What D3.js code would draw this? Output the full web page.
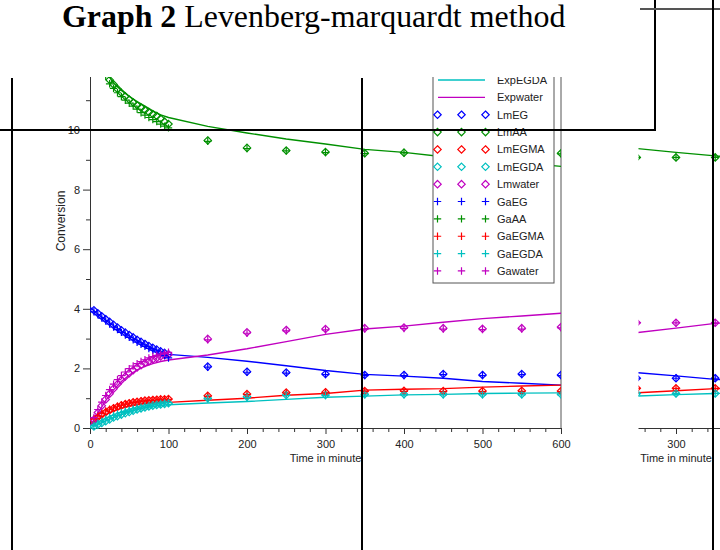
<!DOCTYPE html>
<html>
<head>
<meta charset="utf-8">
<script src="https://cdn.jsdelivr.net/npm/d3@7"></script>
<style>
  body { margin: 0; background: #fff; }
  svg { display: block; }
</style>
</head>
<body>
<svg id="chart" width="720" height="550"></svg>
<script>
// Values (conversion vs. time in minutes)

// measured curves (solid lines)
const lineTimes = [0, 10, 20, 30, 40, 50, 60, 70, 80, 90, 100, 150, 200, 250, 300, 350, 400, 450, 500, 550, 600];
const expEG    = [4.05, 3.82, 3.62, 3.43, 3.25, 3.09, 2.94, 2.80, 2.67, 2.56, 2.47, 2.37, 2.24, 2.09, 1.93, 1.80, 1.74, 1.67, 1.56, 1.50, 1.44];
const expAA    = [13.5, 12.6, 11.95, 11.58, 11.33, 11.13, 10.95, 10.80, 10.64, 10.51, 10.42, 10.12, 9.90, 9.70, 9.53, 9.35, 9.25, 9.10, 9.00, 8.90, 8.78];
const expEGMA  = [0.10, 0.30, 0.45, 0.57, 0.66, 0.73, 0.78, 0.82, 0.84, 0.85, 0.86, 0.93, 1.00, 1.10, 1.16, 1.27, 1.30, 1.32, 1.37, 1.41, 1.44];
const expEGDA  = [0.00, 0.12, 0.24, 0.35, 0.45, 0.54, 0.62, 0.68, 0.73, 0.76, 0.78, 0.84, 0.89, 0.96, 1.03, 1.07, 1.11, 1.13, 1.16, 1.17, 1.18];
const expWater = [0.05, 0.50, 0.92, 1.28, 1.56, 1.78, 1.95, 2.07, 2.16, 2.23, 2.28, 2.45, 2.66, 2.90, 3.14, 3.32, 3.42, 3.55, 3.67, 3.76, 3.85];

// model points (diamonds = Levenberg-Marquardt, pluses = GA)
const markTimes = [5, 10, 15, 20, 25, 30, 35, 40, 45, 50, 55, 60, 65, 70, 75, 80, 85, 90, 95, 100,
                   150, 200, 250, 300, 350, 400, 450, 500, 550, 600];
const lmEG    = [3.95, 3.85, 3.75, 3.65, 3.56, 3.46, 3.37, 3.28, 3.20, 3.12, 3.04, 2.96, 2.89, 2.82, 2.75, 2.69, 2.63, 2.57, 2.52, 2.47,
                 2.06, 1.89, 1.86, 1.81, 1.78, 1.78, 1.81, 1.78, 1.81, 1.78];
const gaEG    = [3.90, 3.80, 3.69, 3.59, 3.49, 3.39, 3.30, 3.21, 3.12, 3.04, 2.96, 2.88, 2.81, 2.74, 2.67, 2.61, 2.55, 2.49, 2.43, 2.35,
                 2.04, 1.87, 1.84, 1.79, 1.76, 1.76, 1.79, 1.76, 1.79, 1.76];
const lmAA    = [13.0, 12.6, 12.25, 11.93, 11.68, 11.53, 11.38, 11.25, 11.13, 11.02, 10.92, 10.83, 10.75, 10.67, 10.60, 10.53, 10.47, 10.38, 10.28, 10.20,
                 9.65, 9.40, 9.31, 9.26, 9.22, 9.24, 9.20, 9.18, 9.16, 9.22];
const gaAA    = [12.9, 12.5, 12.1, 11.8, 11.55, 11.40, 11.25, 11.12, 11.00, 10.90, 10.80, 10.70, 10.58, 10.50, 10.42, 10.35, 10.28, 10.20, 10.13, 10.07,
                 9.62, 9.38, 9.30, 9.24, 9.21, 9.23, 9.20, 9.18, 9.15, 9.20];
const lmEGMA  = [0.25, 0.36, 0.45, 0.53, 0.60, 0.66, 0.71, 0.76, 0.80, 0.83, 0.86, 0.88, 0.90, 0.92, 0.93, 0.94, 0.95, 0.96, 0.96, 0.97,
                 1.08, 1.14, 1.19, 1.20, 1.24, 1.25, 1.24, 1.24, 1.25, 1.24];
const gaEGMA  = [0.30, 0.41, 0.50, 0.57, 0.63, 0.68, 0.73, 0.77, 0.80, 0.83, 0.86, 0.88, 0.90, 0.91, 0.92, 0.93, 0.94, 0.95, 0.95, 0.96,
                 1.06, 1.12, 1.17, 1.18, 1.22, 1.23, 1.22, 1.22, 1.23, 1.22];
const lmEGDA  = [0.05, 0.11, 0.17, 0.23, 0.29, 0.35, 0.40, 0.45, 0.50, 0.54, 0.58, 0.62, 0.66, 0.69, 0.72, 0.75, 0.77, 0.79, 0.81, 0.83,
                 1.00, 1.05, 1.11, 1.11, 1.13, 1.13, 1.13, 1.13, 1.13, 1.13];
const gaEGDA  = [0.09, 0.16, 0.23, 0.30, 0.36, 0.42, 0.47, 0.52, 0.56, 0.60, 0.64, 0.67, 0.70, 0.73, 0.76, 0.78, 0.80, 0.82, 0.84, 0.85,
                 0.98, 1.03, 1.09, 1.09, 1.11, 1.11, 1.11, 1.11, 1.11, 1.11];
const lmWater = [0.28, 0.52, 0.75, 0.96, 1.15, 1.32, 1.47, 1.61, 1.73, 1.84, 1.94, 2.03, 2.11, 2.18, 2.24, 2.30, 2.35, 2.40, 2.44, 2.47,
                 2.99, 3.21, 3.29, 3.32, 3.35, 3.37, 3.35, 3.33, 3.35, 3.39];
const gaWater = [0.35, 0.62, 0.87, 1.09, 1.29, 1.47, 1.62, 1.76, 1.88, 1.99, 2.08, 2.16, 2.23, 2.29, 2.35, 2.40, 2.44, 2.48, 2.51, 2.54,
                 2.96, 3.18, 3.26, 3.29, 3.32, 3.34, 3.32, 3.30, 3.32, 3.36];

// the neighbouring plot that peeks in at the right edge (only 200-400 min visible)
const nbLineTimes = [200, 250, 300, 350, 400];
const nbExpEG    = [1.95, 1.86, 1.75, 1.63, 1.58];
const nbExpAA    = [9.50, 9.38, 9.25, 9.13, 9.05];
const nbExpEGMA  = [1.12, 1.18, 1.25, 1.32, 1.36];
const nbExpEGDA  = [1.03, 1.07, 1.12, 1.16, 1.18];
const nbExpWater = [3.05, 3.20, 3.35, 3.51, 3.60];
const nbMarkTimes = [250, 300, 350];
const nbEG    = [1.67, 1.67, 1.67];
const nbAA    = [9.08, 9.08, 9.08];
const nbEGMA  = [1.33, 1.33, 1.33];
const nbEGDA  = [1.16, 1.16, 1.16];
const nbWater = [3.53, 3.53, 3.53];

const components = ["EG", "AA", "EGMA", "EGDA", "water"];
const compColors = ["#0000ff", "#009000", "#ff0000", "#00c0c0", "#c000c0"];
const xTicks = [0, 100, 200, 300, 400, 500, 600];
const nbXTicks = [300];
const yTicks = [0, 2, 4, 6, 8, 10];
const yMinor = [1, 3, 5, 7, 9, 11];

// ---- layout ----
const W = 720, H = 550;
const plot = { left: 90, right: 561, top: 77, bottom: 428 };
const neighbourShift = 350.5;
const axisColor = "#333";
const textColor = "#222";
const sansFont = "'Liberation Sans', Arial, sans-serif";
const serifFont = "'Liberation Serif', 'Times New Roman', serif";

const x = d3.scaleLinear().domain([0, 600]).range([plot.left, plot.right]);
const y = d3.scaleLinear().domain([0, 12]).range([plot.bottom, plot.bottom - 12 * 29.8]);

const svg = d3.select("#chart");
const defs = svg.append("defs");

const R = 3.7;
const diamondPath = `M0,${-R}L${R},0L0,${R}L${-R},0Z`;
const plusPath = `M${-R},0H${R}M0,${-R}V${R}`;

function addClip(id, x0, y0, w, h) {
  defs.append("clipPath").attr("id", id)
    .append("rect").attr("x", x0).attr("y", y0).attr("width", w).attr("height", h);
}

function markerAttrs(sel, shape, color) {
  sel.attr("d", shape)
    .attr("fill", "none")
    .attr("stroke", color)
    .attr("stroke-width", 1.2);
}

/**
 * One Scilab-style panel: axes, measured lines, model markers, optional legend
 */
function drawPanel(dx, clipLeft, data, ticks, withLegend) {
  const id = "panel" + Math.round(dx);
  addClip(id, clipLeft, plot.top, W - clipLeft, H - plot.top);
  const outer = svg.append("g").attr("clip-path", `url(#${id})`);
  const g = outer.append("g").attr("transform", `translate(${dx},0)`);

  // y axis
  const gy = g.append("g")
    .attr("transform", `translate(${plot.left},0)`)
    .call(d3.axisLeft(y).tickValues(yTicks).tickSize(7).tickSizeOuter(0).tickPadding(3).tickFormat(d3.format("d")));
  gy.append("g")
    .call(d3.axisLeft(y).tickValues(yMinor).tickSize(4).tickFormat(""))
    .select(".domain").remove();

  // x axis
  const gx = g.append("g")
    .attr("transform", `translate(0,${plot.bottom})`)
    .call(d3.axisBottom(x).tickValues(ticks).tickSize(6).tickSizeOuter(0).tickPadding(6));
  gx.append("g")
    .call(d3.axisBottom(x).tickValues(d3.range(20, 600, 20).filter(v => v % 100)).tickSize(4).tickFormat(""))
    .select(".domain").remove();

  g.selectAll(".tick line, .domain").attr("stroke", axisColor);
  g.selectAll(".tick text")
    .attr("fill", textColor)
    .style("font-family", sansFont)
    .style("font-size", "11px");

  // right frame of the axes box
  g.append("line")
    .attr("x1", plot.right).attr("x2", plot.right)
    .attr("y1", y(12)).attr("y2", plot.bottom)
    .attr("stroke", "#555").attr("stroke-width", 1);

  g.append("text")
    .attr("transform", `translate(62,221) rotate(-90)`)
    .attr("text-anchor", "middle")
    .attr("dominant-baseline", "middle")
    .style("font-family", sansFont)
    .style("font-size", "12px")
    .attr("fill", textColor)
    .text("Conversion");

  g.append("text")
    .attr("x", (plot.left + plot.right) / 2)
    .attr("y", 462)
    .attr("text-anchor", "middle")
    .style("font-family", sansFont)
    .style("font-size", "11px")
    .attr("fill", textColor)
    .text("Time in minute");

  // data, clipped to the axes box
  const dataId = id + "data";
  addClip(dataId, plot.left, plot.top, plot.right - plot.left, plot.bottom - plot.top + 4);
  const gData = g.append("g").attr("clip-path", `url(#${dataId})`);

  const line = d3.line().x(d => x(d[0])).y(d => y(d[1]));
  data.exp.forEach((vals, i) => {
    gData.append("path")
      .datum(d3.zip(data.lineTimes, vals))
      .attr("d", line)
      .attr("fill", "none")
      .attr("stroke", compColors[i])
      .attr("stroke-width", 1.4);
  });

  const markerSets = [
    { sets: data.lm, shape: diamondPath },
    { sets: data.ga, shape: plusPath }
  ];
  markerSets.forEach(ms => {
    ms.sets.forEach((vals, i) => {
      gData.append("g").selectAll("path")
        .data(d3.zip(data.markTimes, vals))
        .join("path")
        .attr("transform", d => `translate(${x(d[0])},${y(d[1])})`)
        .call(markerAttrs, ms.shape, compColors[i]);
    });
  });

  if (withLegend) drawLegend(g);
}

function drawLegend(g) {
  const entries = [];
  components.forEach((c, i) => entries.push({ label: "Exp" + c, kind: "line", color: compColors[i] }));
  components.forEach((c, i) => entries.push({ label: "Lm" + c, kind: diamondPath, color: compColors[i] }));
  components.forEach((c, i) => entries.push({ label: "Ga" + c, kind: plusPath, color: compColors[i] }));

  const rowH = 17.36;
  const firstRowY = 80 - 3 * rowH;
  const box = { x0: 433, x1: 554, y0: firstRowY - 12, y1: 283 };

  const gl = g.append("g").attr("class", "legend");
  gl.append("rect")
    .attr("x", box.x0).attr("y", box.y0)
    .attr("width", box.x1 - box.x0).attr("height", box.y1 - box.y0)
    .attr("fill", "#fff").attr("stroke", "#555").attr("stroke-width", 1);

  entries.forEach((e, k) => {
    const cy = firstRowY + k * rowH;
    // rows lying wholly above the cut-off edge of the picture are not shown
    if (cy + 6 < plot.top) return;
    const row = gl.append("g");
    if (e.kind === "line") {
      row.append("line")
        .attr("x1", 438).attr("x2", 485).attr("y1", cy).attr("y2", cy)
        .attr("stroke", e.color).attr("stroke-width", 1.4);
    } else {
      [437.5, 461.5, 485.5].forEach(mx => {
        row.append("path")
          .attr("transform", `translate(${mx},${cy})`)
          .call(markerAttrs, e.kind, e.color);
      });
    }
    row.append("text")
      .attr("x", 497).attr("y", cy + 4)
      .style("font-family", sansFont)
      .style("font-size", "11px")
      .attr("fill", textColor)
      .text(e.label);
  });
}

drawPanel(0, 0, {
  lineTimes, markTimes,
  exp: [expEG, expAA, expEGMA, expEGDA, expWater],
  lm: [lmEG, lmAA, lmEGMA, lmEGDA, lmWater],
  ga: [gaEG, gaAA, gaEGMA, gaEGDA, gaWater]
}, xTicks, true);

drawPanel(neighbourShift, 638.5, {
  lineTimes: nbLineTimes, markTimes: nbMarkTimes,
  exp: [nbExpEG, nbExpAA, nbExpEGMA, nbExpEGDA, nbExpWater],
  lm: [nbEG, nbAA, nbEGMA, nbEGDA, nbWater],
  ga: [nbEG, nbAA, nbEGMA, nbEGDA, nbWater]
}, nbXTicks, false);

// page rules of the surrounding document
const rules = [
  { x1: 0, y1: 130, x2: 656, y2: 130, c: "#000" },
  { x1: 655, y1: 0, x2: 655, y2: 131, c: "#000" },
  { x1: 640, y1: 9, x2: 720, y2: 9, c: "#555" },
  { x1: 713, y1: 0, x2: 713, y2: 550, c: "#000" },
  { x1: 12, y1: 78, x2: 12, y2: 550, c: "#000" },
  { x1: 362, y1: 78, x2: 362, y2: 550, c: "#000" }
];
svg.append("g").selectAll("line")
  .data(rules)
  .join("line")
  .attr("x1", d => d.x1).attr("y1", d => d.y1)
  .attr("x2", d => d.x2).attr("y2", d => d.y2)
  .attr("stroke", d => d.c)
  .attr("stroke-width", 2);

// title: bold label followed by regular text, as two separate runs
const titleSize = 31.9;
const titleBold = svg.append("text")
  .attr("x", 62).attr("y", 27)
  .style("font-family", serifFont)
  .style("font-size", `${titleSize}px`)
  .style("font-weight", "bold")
  .attr("fill", "#000")
  .text("Graph 2");
const boldW = titleBold.node().getComputedTextLength();
svg.append("text")
  .attr("x", 62 + boldW + titleSize * 0.25).attr("y", 27)
  .style("font-family", serifFont)
  .style("font-size", `${titleSize}px`)
  .attr("fill", "#000")
  .text("Levenberg-marquardt method");
</script>
</body>
</html>
